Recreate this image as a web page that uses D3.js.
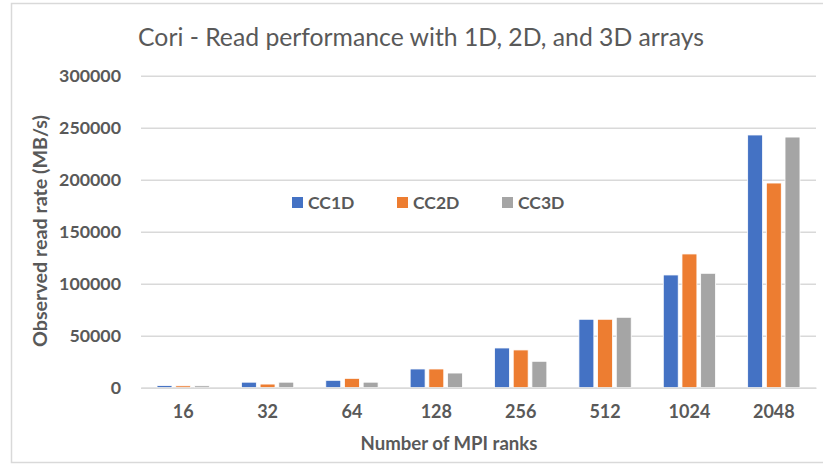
<!DOCTYPE html>
<html>
<head>
<meta charset="utf-8">
<script src="https://cdn.jsdelivr.net/npm/d3@7"></script>
<style>
  html, body { margin: 0; padding: 0; background: #fff; }
  svg { display: block; font-family: Lato, "Open Sans", sans-serif; }
</style>
</head>
<body>
<svg id="chart" width="823" height="465"></svg>
<script>
const categories = ["16", "32", "64", "128", "256", "512", "1024", "2048"];
const seriesNames = ["CC1D", "CC2D", "CC3D"];
const cc1d = [2000, 5300, 7100, 18000, 38200, 65800, 108400, 243000];
const cc2d = [1800, 3500, 9000, 18000, 36300, 65800, 128600, 196800];
const cc3d = [1800, 5300, 5300, 14100, 25400, 67700, 110000, 241000];
const yTicks = [0, 50000, 100000, 150000, 200000, 250000, 300000];
const colors = ["#4472C4", "#ED7D31", "#A5A5A5"];
const titleText = "Cori - Read performance with 1D, 2D, and 3D arrays";
const xTitle = "Number of MPI ranks";
const yTitle = "Observed read rate (MB/s)";

const seriesValues = [cc1d, cc2d, cc3d];
const data = categories.map((c, i) => ({
  cat: c,
  vals: seriesNames.map((s, j) => ({ key: s, value: seriesValues[j][i] }))
}));

const svg = d3.select("#chart");
const textColor = "#595959";

// scale a text's font size so that its rendered width matches a target
function fitWidth(sel, target) {
  const node = sel.node();
  const fs = parseFloat(sel.attr("font-size"));
  const w = node.getComputedTextLength();
  if (w > 0) sel.attr("font-size", (fs * target / w).toFixed(2));
  return sel;
}

// chart border
svg.append("rect")
  .attr("x", 11.5).attr("y", 3.5).attr("width", 830).attr("height", 459)
  .attr("fill", "none").attr("stroke", "#D9D9D9").attr("stroke-width", 1.5);

const pLeft = 141, pRight = 816, pTop = 75.7, pBottom = 387.7;

const x0 = d3.scaleBand().domain(categories).range([pLeft, pRight])
  .paddingInner(0.38).paddingOuter(0.19);
const x1 = d3.scaleBand().domain(seriesNames).range([0, x0.bandwidth()]).paddingInner(0.2);
const y = d3.scaleLinear().domain([0, 300000]).range([pBottom, pTop]);

// gridlines + y labels
const yAxis = d3.axisLeft(y).tickValues(yTicks).tickSize(-(pRight - pLeft)).tickFormat(d3.format("d")).tickPadding(20);
const gy = svg.append("g").attr("transform", `translate(${pLeft},0)`).call(yAxis);
gy.select(".domain").remove();
gy.selectAll(".tick line").attr("stroke", "#D9D9D9").attr("stroke-width", 1.5);
gy.selectAll(".tick text")
  .attr("fill", textColor).attr("font-size", 17.8).attr("font-weight", "bold")
  .attr("font-family", "Lato, sans-serif");

// bars
const groups = svg.append("g").selectAll("g").data(data).join("g")
  .attr("transform", d => `translate(${x0(d.cat)},0)`);
groups.selectAll("rect").data(d => d.vals).join("rect")
  .attr("x", d => x1(d.key))
  .attr("width", x1.bandwidth())
  .attr("y", d => y(d.value))
  .attr("height", d => pBottom - y(d.value))
  .attr("fill", (d, i) => colors[i])
  .attr("stroke", "#fff").attr("stroke-width", 0.8);

// x axis
const xAxis = d3.axisBottom(x0).tickSize(0).tickPadding(18);
const gx = svg.append("g").attr("transform", `translate(0,${pBottom})`).call(xAxis);
gx.select(".domain").attr("stroke", "#D9D9D9").attr("stroke-width", 1.5);
gx.selectAll(".tick text")
  .attr("fill", textColor).attr("font-size", 18).attr("font-weight", "bold")
  .attr("font-family", "Lato, sans-serif");

// title
const t = svg.append("text")
  .attr("x", 421).attr("y", 46).attr("text-anchor", "middle")
  .attr("fill", textColor).attr("font-size", 24)
  .text(titleText);
fitWidth(t, 566);

// axis titles
const xt = svg.append("text")
  .attr("x", 449).attr("y", 450).attr("text-anchor", "middle")
  .attr("fill", textColor).attr("font-size", 17).attr("font-weight", "bold")
  .text(xTitle);
fitWidth(xt, 177);

const yt = svg.append("text")
  .attr("transform", "translate(47,231) rotate(-90)").attr("text-anchor", "middle")
  .attr("fill", textColor).attr("font-size", 17).attr("font-weight", "bold")
  .text(yTitle);
fitWidth(yt, 232);

// legend
const legendX = [292, 397, 502];
const lg = svg.append("g").selectAll("g").data(seriesNames).join("g")
  .attr("transform", (d, i) => `translate(${legendX[i]},197)`);
lg.append("rect").attr("width", 11).attr("height", 11).attr("fill", (d, i) => colors[i]);
lg.append("text").attr("x", 16).attr("y", 11.5)
  .attr("fill", textColor).attr("font-size", 17.5).attr("font-weight", "bold")
  .text(d => d);
</script>
</body>
</html>
